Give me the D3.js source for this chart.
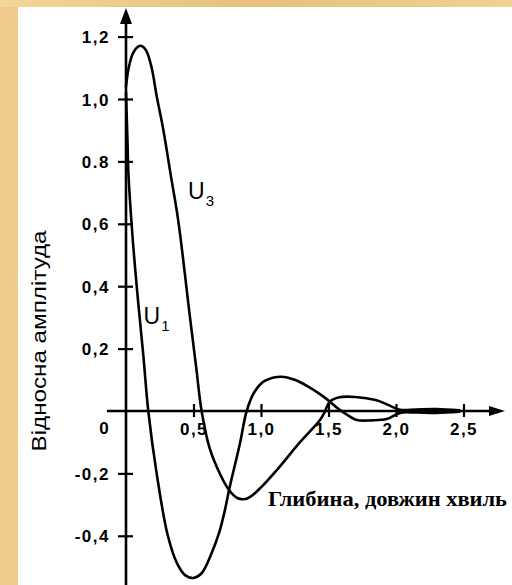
<!DOCTYPE html>
<html>
<head>
<meta charset="utf-8">
<script src="https://cdn.jsdelivr.net/npm/d3@7"></script>
<style>
html,body{margin:0;padding:0;background:#EECB8B;}
svg{display:block;}
</style>
</head>
<body>
<script>
// ---- data ----
const u1X = [0, 0.005, 0.012, 0.017, 0.05, 0.091, 0.13, 0.165, 0.227, 0.31, 0.38, 0.44, 0.5, 0.56, 0.63, 0.69, 0.733, 0.766, 0.844, 0.894, 0.95, 1.03, 1.153, 1.25, 1.35, 1.45, 1.51, 1.57, 1.63, 1.71, 1.82, 1.93, 2.03, 2.15, 2.3, 2.47];
const u1Y = [1.02, 0.95, 0.85, 0.77, 0.55, 0.345, 0.17, 0.0, -0.2, -0.4, -0.49, -0.527, -0.535, -0.52, -0.46, -0.39, -0.317, -0.248, -0.104, 0.0, 0.06, 0.097, 0.11, 0.1, 0.078, 0.05, 0.03, 0.008, -0.01, -0.029, -0.03, -0.026, -0.006, -0.005, -0.006, -0.002];
const u3X = [0, 0.02, 0.05, 0.09, 0.116, 0.15, 0.19, 0.227, 0.277, 0.33, 0.387, 0.474, 0.52, 0.56, 0.62, 0.70, 0.766, 0.82, 0.87, 0.92, 1.0, 1.116, 1.289, 1.437, 1.47, 1.51, 1.58, 1.7, 1.85, 1.95, 2.03, 2.15, 2.3, 2.47];
const u3Y = [1.04, 1.1, 1.145, 1.168, 1.17, 1.155, 1.1, 1.01, 0.9, 0.76, 0.61, 0.30, 0.14, 0.0, -0.12, -0.205, -0.255, -0.278, -0.283, -0.275, -0.245, -0.19, -0.10, -0.029, -0.005, 0.03, 0.044, 0.045, 0.035, 0.018, 0.004, 0.005, 0.006, 0.002];
const yTicks = [1.2, 1.0, 0.8, 0.6, 0.4, 0.2, -0.2, -0.4];
const yTickLabels = ["1,2", "1,0", "0.8", "0,6", "0,4", "0,2", "-0,2", "-0,4"];
const xTicks = [0.5, 1.0, 1.5, 2.0, 2.5];
const xTickLabels = ["0,5", "1,0", "1,5", "2,0", "2,5"];
const originLabel = "0";
const yTitle = "Відносна амплітуда";
const xTitle = "Глибина, довжин хвиль";
const seriesNames = [{base: "U", sub: "3", x: 0.46, y: 0.68}, {base: "U", sub: "1", x: 0.13, y: 0.28}];

// ---- layout ----
const W = 512, H = 585;
const svg = d3.select("body").append("svg").attr("width", W).attr("height", H);

// background frame
svg.append("rect").attr("x", 0).attr("y", 0).attr("width", W).attr("height", H).attr("fill", "#EECB8B");
const grad = svg.append("defs").append("linearGradient").attr("id", "g1").attr("x1", 0).attr("x2", 1).attr("y1", 0).attr("y2", 0);
grad.append("stop").attr("offset", "0%").attr("stop-color", "#F3D699");
grad.append("stop").attr("offset", "50%").attr("stop-color", "#E6C07C");
grad.append("stop").attr("offset", "100%").attr("stop-color", "#F1D292");
svg.append("rect").attr("x", 0).attr("y", 0).attr("width", W).attr("height", 7).attr("fill", "url(#g1)");
svg.append("rect").attr("x", 18).attr("y", 7).attr("width", W - 18).attr("height", H - 7).attr("fill", "#ffffff");

const x = d3.scaleLinear().domain([0, 2.5]).range([126, 463.5]);
const y = d3.scaleLinear().domain([0, 1.2]).range([411, 36.6]);

const tickFont = "'Liberation Sans', Arial, sans-serif";

// y axis
const yAxis = d3.axisLeft(y).tickValues(yTicks).tickFormat((d, i) => yTickLabels[i]).tickSize(8).tickPadding(8);
const gy = svg.append("g").attr("transform", `translate(${x(0)},0)`).call(yAxis);
gy.select(".domain").remove();
gy.selectAll(".tick line").attr("x1", 7).attr("x2", -8).attr("stroke", "#000").attr("stroke-width", 2.2);
gy.selectAll(".tick text").attr("font-family", tickFont).attr("font-weight", "bold").attr("font-size", 17)
  .attr("letter-spacing", "1.5px").attr("fill", "#000").attr("dy", "0.36em");

// x axis
const xAxis = d3.axisBottom(x).tickValues(xTicks).tickFormat((d, i) => xTickLabels[i]).tickSize(5);
const gx = svg.append("g").attr("transform", `translate(0,${y(0)})`).call(xAxis);
gx.select(".domain").remove();
gx.selectAll(".tick line").attr("y1", -7).attr("y2", 6).attr("stroke", "#000").attr("stroke-width", 2.2);
gx.selectAll(".tick text").attr("font-family", tickFont).attr("font-weight", "bold").attr("font-size", 17)
  .attr("letter-spacing", "1.5px").attr("fill", "#000").attr("y", 24).attr("dy", 0);
svg.append("text").attr("x", x(0) - 22).attr("y", y(0) + 23).attr("text-anchor", "middle")
  .attr("font-family", tickFont).attr("font-weight", "bold").attr("font-size", 17).text(originLabel);

// axis lines with arrows
svg.append("line").attr("x1", x(0)).attr("x2", x(0)).attr("y1", H).attr("y2", 16)
  .attr("stroke", "#000").attr("stroke-width", 2.6);
svg.append("path").attr("d", `M${x(0)},8 L${x(0) - 6},24 L${x(0) + 6},24 Z`).attr("fill", "#000");
svg.append("line").attr("x1", 107).attr("x2", 496).attr("y1", y(0)).attr("y2", y(0))
  .attr("stroke", "#000").attr("stroke-width", 2.4);
svg.append("path").attr("d", `M505,${y(0)} L489,${y(0) - 5} L489,${y(0) + 5} Z`).attr("fill", "#000");

// curves
const line = d3.line().x(d => x(d[0])).y(d => y(d[1])).curve(d3.curveCatmullRom.alpha(0.5));
const u1 = u1X.map((v, i) => [v, u1Y[i]]);
const u3 = u3X.map((v, i) => [v, u3Y[i]]);
[u1, u3].forEach(s => {
  svg.append("path").attr("d", line(s)).attr("fill", "none").attr("stroke", "#000").attr("stroke-width", 2.6)
    .attr("stroke-linejoin", "round").attr("stroke-linecap", "round");
});

// series labels
seriesNames.forEach(s => {
  const t = svg.append("text").attr("x", x(s.x)).attr("y", y(s.y)).attr("font-family", tickFont)
    .attr("font-size", 23).attr("fill", "#000");
  t.append("tspan").text(s.base);
  t.append("tspan").attr("font-size", 15).attr("dy", 7).attr("dx", 1).text(s.sub);
});

// axis titles
svg.append("text").attr("transform", "translate(46,341) rotate(-90)").attr("text-anchor", "middle")
  .attr("font-family", tickFont).attr("font-size", 21).attr("fill", "#000")
  .attr("textLength", 221).attr("lengthAdjust", "spacingAndGlyphs").text(yTitle);
svg.append("text").attr("x", 268).attr("y", 506)
  .attr("font-family", "'Liberation Serif', 'Times New Roman', serif").attr("font-weight", "bold").attr("font-size", 21).attr("fill", "#000")
  .attr("textLength", 239).attr("lengthAdjust", "spacingAndGlyphs").text(xTitle);
</script>
</body>
</html>
